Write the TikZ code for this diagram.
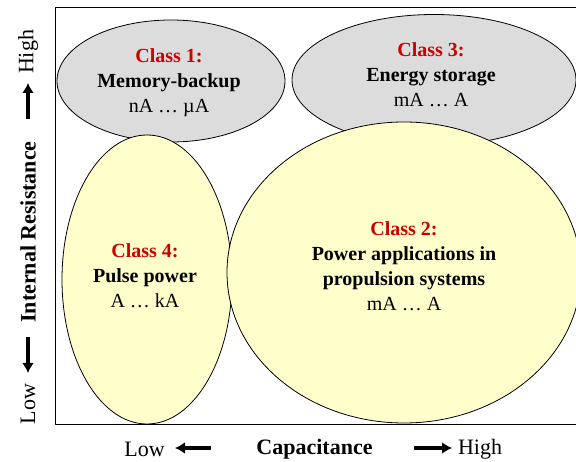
\documentclass[tikz,border=0pt]{standalone}
\usepackage{fontspec}
\setmainfont{Liberation Serif}
\usetikzlibrary{shapes.geometric,arrows.meta}
\definecolor{clsgray}{HTML}{DCDCDC}
\definecolor{clsyellow}{HTML}{FFFFCC}
\definecolor{clsred}{HTML}{CC0000}
\tikzset{
  clsbox/.style={ellipse,draw=black,line width=0.8bp,inner sep=0pt},
  clstext/.style={align=center,font=\fontsize{20bp}{25bp}\selectfont},
  axistext/.style={font=\fontsize{22bp}{26bp}\selectfont},
  axisarrow/.style={line width=3.5bp,-{Latex[length=10bp,width=12bp]}},
}
\newcommand{\clsname}[1]{\textcolor{clsred}{\textbf{#1}}}
\begin{document}
\begin{tikzpicture}[>=latex,line join=bevel,]
\useasboundingbox (0bp,0bp) rectangle (576bp,462bp);
%%
\draw [line width=1bp] (55bp,37bp) rectangle (580bp,454bp);
%
\node (cls1) at (171bp,381bp) [clsbox,fill=clsgray,minimum width=228bp,minimum height=122bp] {};
  \node (cls3) at (434bp,382bp) [clsbox,fill=clsgray,minimum width=284bp,minimum height=131bp] {};
  \node (cls1_txt) at (169bp,379bp) [clstext] {\clsname{Class 1:}\\ \textbf{Memory-backup}\\ nA … µA};
  \node (cls3_txt) at (431bp,387bp) [clstext] {\clsname{Class 3:}\\ \textbf{Energy storage}\\ mA … A};
  \node (cls4) at (147bp,182.5bp) [clsbox,fill=clsyellow,minimum width=170bp,minimum height=289bp] {};
  \node (cls2) at (404bp,189.5bp) [clsbox,fill=clsyellow,minimum width=354bp,minimum height=301bp] {};
  \node (cls4_txt) at (145bp,186bp) [clstext] {\clsname{Class 4:}\\ \textbf{Pulse power}\\ A … kA};
  \node (cls2_txt) at (404bp,196bp) [clstext] {\clsname{Class 2:}\\ \textbf{Power applications in}\\ \textbf{propulsion systems}\\ mA … A};
%
\node (cap) at (314.5bp,13bp) [axistext] {\textbf{Capacitance}};
  \node (cap_low) at (144.5bp,13bp) [axistext] {Low};
  \node (cap_high) at (480bp,13bp) [axistext] {High};
  \coordinate (cap_l0) at (211bp,14bp);
  \coordinate (cap_l1) at (175bp,14bp);
  \coordinate (cap_h0) at (414bp,14bp);
  \coordinate (cap_h1) at (452bp,14bp);
  \draw [axisarrow] (cap_l0) -- (cap_l1);
  \draw [axisarrow] (cap_h0) -- (cap_h1);
%
\node (res) at (28bp,230bp) [axistext,rotate=90] {\textbf{Internal Resistance}};
  \node (res_low) at (28bp,58bp) [axistext,rotate=90] {Low};
  \node (res_high) at (28bp,410bp) [axistext,rotate=90] {High};
  \coordinate (res_h0) at (28bp,343bp);
  \coordinate (res_h1) at (28bp,379bp);
  \coordinate (res_l0) at (28bp,125bp);
  \coordinate (res_l1) at (28bp,89bp);
  \draw [axisarrow] (res_h0) -- (res_h1);
  \draw [axisarrow] (res_l0) -- (res_l1);
%
\end{tikzpicture}
\end{document}
